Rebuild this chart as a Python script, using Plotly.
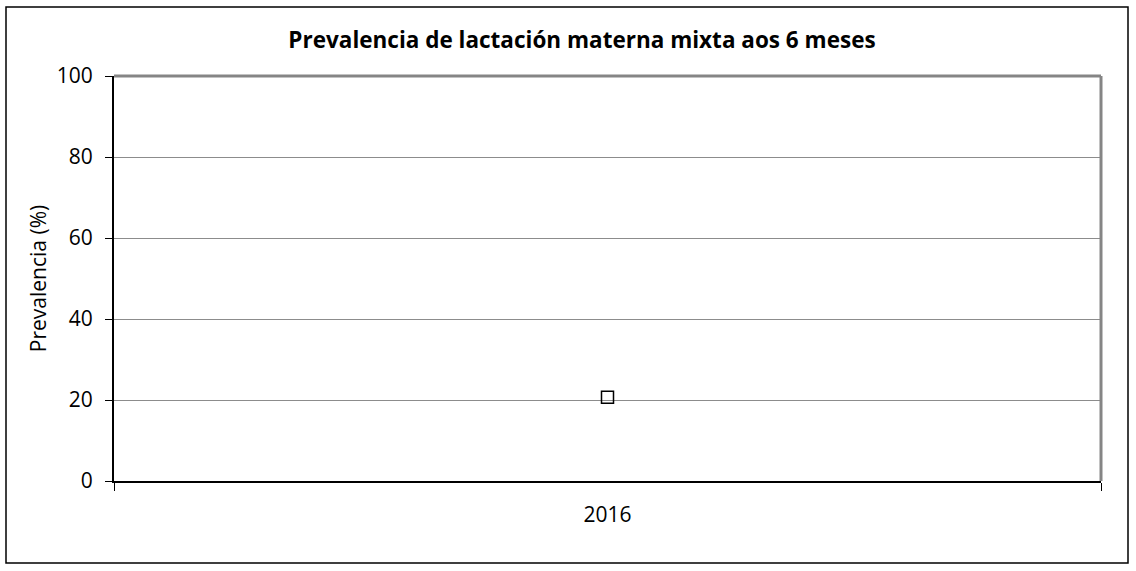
import plotly.graph_objects as go

categories = ["2016"]
prevalence = [20.7]
y_ticks = [0, 20, 40, 60, 80, 100]

title_text = "Prevalencia de lactación materna mixta aos 6 meses"
y_title = "Prevalencia (%)"

fig = go.Figure()
fig.add_trace(go.Scatter(
    x=categories, y=prevalence, mode="markers",
    marker=dict(symbol="square-open", size=12, color="black", line=dict(width=1.5, color="black")),
    showlegend=False,
))

font_family = "Open Sans, Liberation Sans, sans-serif"

fig.update_layout(
    width=1136, height=571,
    margin=dict(l=114, r=35, t=76, b=90),
    paper_bgcolor="white", plot_bgcolor="white",
    title=dict(text="<b>" + title_text + "</b>", xref="container", x=582 / 1136, xanchor="center",
               y=1 - 40 / 571, yanchor="middle",
               font=dict(family=font_family, size=22.5, color="black")),
    font=dict(family=font_family, size=21, color="black"),
    xaxis=dict(
        type="category", range=[-0.5, 0.5], tickson="boundaries",
        ticks="outside", ticklen=8, tickcolor="black", tickwidth=1,
        ticklabelstandoff=14,
        showline=True, linecolor="black", linewidth=2,
        showgrid=False, zeroline=False,
        tickfont=dict(size=21, color="black"),
    ),
    yaxis=dict(
        range=[0, 100], tickvals=y_ticks, ticks="outside", ticklen=7,
        tickcolor="black", tickwidth=1, ticklabelstandoff=8,
        showline=True, linecolor="black", linewidth=2,
        showgrid=True, gridcolor="#8c8c8c", gridwidth=1,
        zeroline=False,
        tickfont=dict(size=21, color="black"),
        title=dict(text=y_title, font=dict(size=21, color="black"), standoff=4),
    ),
)

# gray top/right plot-area border
fig.add_shape(type="line", xref="paper", yref="paper", x0=0, x1=1, y0=1, y1=1,
              line=dict(color="#858585", width=3))
fig.add_shape(type="line", xref="paper", yref="paper", x0=1, x1=1, y0=0, y1=1,
              line=dict(color="#858585", width=3))
# outer chart border
fig.add_shape(type="rect", xref="paper", yref="paper",
              x0=(6 - 114) / 987, x1=(1128 - 114) / 987,
              y0=(481 - 563) / 405, y1=(481 - 7) / 405,
              line=dict(color="black", width=1.5), fillcolor="rgba(0,0,0,0)")

fig.write_html("out.html", config={"displayModeBar": False},
               post_script="document.body.style.margin='0';")
